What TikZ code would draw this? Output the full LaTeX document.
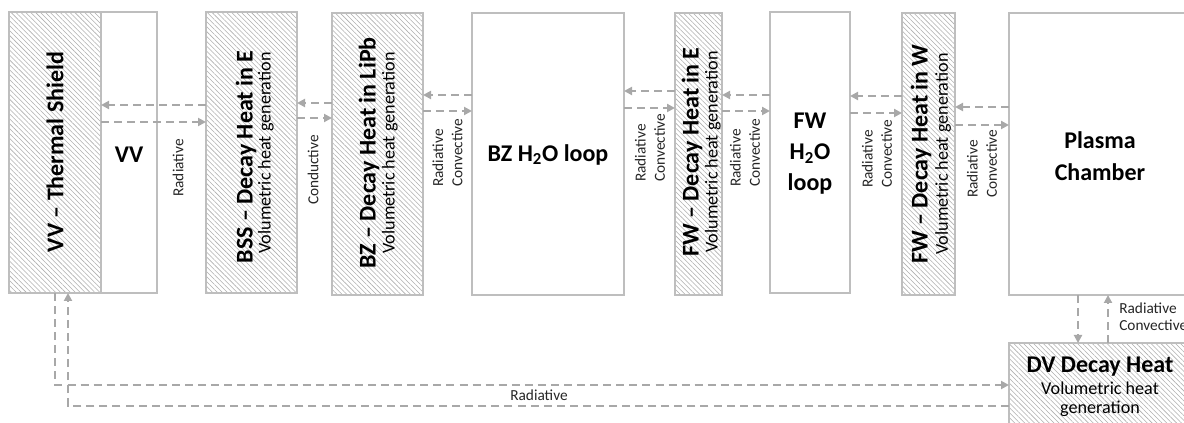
\documentclass[tikz,border=0pt]{standalone}
\usepackage{fontspec}
\setmainfont{Carlito}
\usetikzlibrary{arrows.meta,patterns.meta,fit}
\definecolor{boxline}{RGB}{190,190,190}
\definecolor{flowc}{RGB}{168,168,168}
\definecolor{hatchc}{RGB}{175,175,175}
\begin{document}
\begin{tikzpicture}[x=0.75pt,y=-0.75pt,
  plainbox/.style={draw=boxline, line width=1.1pt, inner sep=0pt, outer sep=0pt},
  hatchbox/.style={plainbox, pattern={Lines[angle=-45,distance=2.6pt,line width=0.42pt]}, pattern color=hatchc},
  bigtxt/.style={font=\fontsize{18}{21}\selectfont\bfseries, inner sep=0pt},
  smalltxt/.style={font=\fontsize{13.6}{14}\selectfont, inner sep=0pt},
  lbl/.style={font=\fontsize{11.5}{14.3}\selectfont, inner sep=0pt, text=black!85},
  flow/.style={draw=flowc, line width=1.5pt, dash pattern=on 6pt off 3.8pt, -{Triangle[length=6pt,width=6pt]}, shorten >=0pt}
]
\clip (0,0) rectangle (1184,423);
\fill[white] (0,0) rectangle (1184,423);

% boxes
\node[hatchbox, fit={(9,12)(101,293)}] (ts) {};
\node[plainbox, fit={(101,12)(157,293)}] (vv) {};
\node[hatchbox, fit={(206,12)(297,293)}] (bss) {};
\node[hatchbox, fit={(332,13)(423,295)}] (lipb) {};
\node[plainbox, fit={(472,13)(624,295)}] (bzw) {};
\node[hatchbox, fit={(675,13)(722,295)}] (fwe) {};
\node[plainbox, fit={(770,12)(850,293)}] (fwh) {};
\node[hatchbox, fit={(902,13)(955,295)}] (fww) {};
\node[plainbox, fit={(1009,13)(1192,295)}] (pc) {};
\node[hatchbox, fit={(1009,343)(1192,430)}] (dv) {};

% box texts
\node[bigtxt, rotate=90] (tsT) at (55,152) {VV – Thermal Shield};
\node[bigtxt] (vvT) at (129,155) {VV};
\node[bigtxt, rotate=90] (bssT) at (246,157) {BSS – Decay Heat in E};
\node[smalltxt, rotate=90] (bssS) at (266,153) {Volumetric heat generation};
\node[bigtxt, rotate=90] (lipbT) at (369,153) {BZ – Decay Heat in LiPb};
\node[smalltxt, rotate=90] (lipbS) at (390,153) {Volumetric heat generation};
\node[bigtxt] (bzwT) at (548,155) {BZ H\textsubscript{2}O loop};
\node[bigtxt, rotate=90] (fweT) at (692,152) {FW – Decay Heat in E};
\node[smalltxt, rotate=90] (fweS) at (713,152) {Volumetric heat generation};
\node[bigtxt, align=center, font=\fontsize{18}{23.3}\selectfont\bfseries] (fwhT) at (810,154) {FW\\H\textsubscript{2}O\\loop};
\node[bigtxt, rotate=90] (fwwT) at (921,154) {FW – Decay Heat in W};
\node[smalltxt, rotate=90] (fwwS) at (943,154) {Volumetric heat generation};
\node[bigtxt, align=center, font=\fontsize{18}{24}\selectfont\bfseries] (pcT) at (1100,156) {Plasma\\Chamber};
\node[bigtxt] (dvT) at (1100,367) {DV Decay Heat};
\node[smalltxt, align=center] (dvS) at (1100,399) {Volumetric heat\\generation};

% horizontal exchanges
\draw[flow] (bss.west |- 0,105) -- (ts.east |- 0,105);
\draw[flow] (ts.east |- 0,122) -- (bss.west |- 0,122);
\draw[flow] (lipb.west |- 0,103) -- (bss.east |- 0,103);
\draw[flow] (bss.east |- 0,118) -- (lipb.west |- 0,118);
\draw[flow] (bzw.west |- 0,95) -- (lipb.east |- 0,95);
\draw[flow] (lipb.east |- 0,111) -- (bzw.west |- 0,111);
\draw[flow] (fwe.west |- 0,91) -- (bzw.east |- 0,91);
\draw[flow] (bzw.east |- 0,108) -- (fwe.west |- 0,108);
\draw[flow] (fwh.west |- 0,95) -- (fwe.east |- 0,95);
\draw[flow] (fwe.east |- 0,111) -- (fwh.west |- 0,111);
\draw[flow] (fww.west |- 0,96) -- (fwh.east |- 0,96);
\draw[flow] (fwh.east |- 0,113) -- (fww.west |- 0,113);
\draw[flow] (pc.west |- 0,107) -- (fww.east |- 0,107);
\draw[flow] (fww.east |- 0,125) -- (pc.west |- 0,125);

% vertical exchanges plasma / DV
\draw[flow] (pc.south -| 1078,0) -- (dv.north -| 1078,0);
\draw[flow] (dv.north -| 1108,0) -- (pc.south -| 1108,0);

% long loop thermal shield / DV
\draw[flow] (ts.south) |- (dv.west |- 0,385);
\draw[flow] (dv.west |- 0,406) -| (ts.south -| 68,0);

% connector labels
\node[lbl, rotate=90] (l1) at (178,168) {Radiative};
\node[lbl, rotate=90] (l2) at (313,170) {Conductive};
\node[lbl, rotate=90, anchor=west, align=left] (l3) at (447.5,187) {Radiative\\Convective};
\node[lbl, rotate=90, anchor=west, align=left] (l4) at (650,182) {Radiative\\Convective};
\node[lbl, rotate=90, anchor=west, align=left] (l5) at (745,187) {Radiative\\Convective};
\node[lbl, rotate=90, anchor=west, align=left] (l6) at (877,188) {Radiative\\Convective};
\node[lbl, rotate=90, anchor=west, align=left] (l7) at (982,198) {Radiative\\Convective};
\node[lbl, anchor=north west, align=left, font=\fontsize{11.5}{12.8}\selectfont] (l8) at (1119,303) {Radiative\\Convective};
\node[lbl] (l9) at (539,395) {Radiative};
\end{tikzpicture}
\end{document}
